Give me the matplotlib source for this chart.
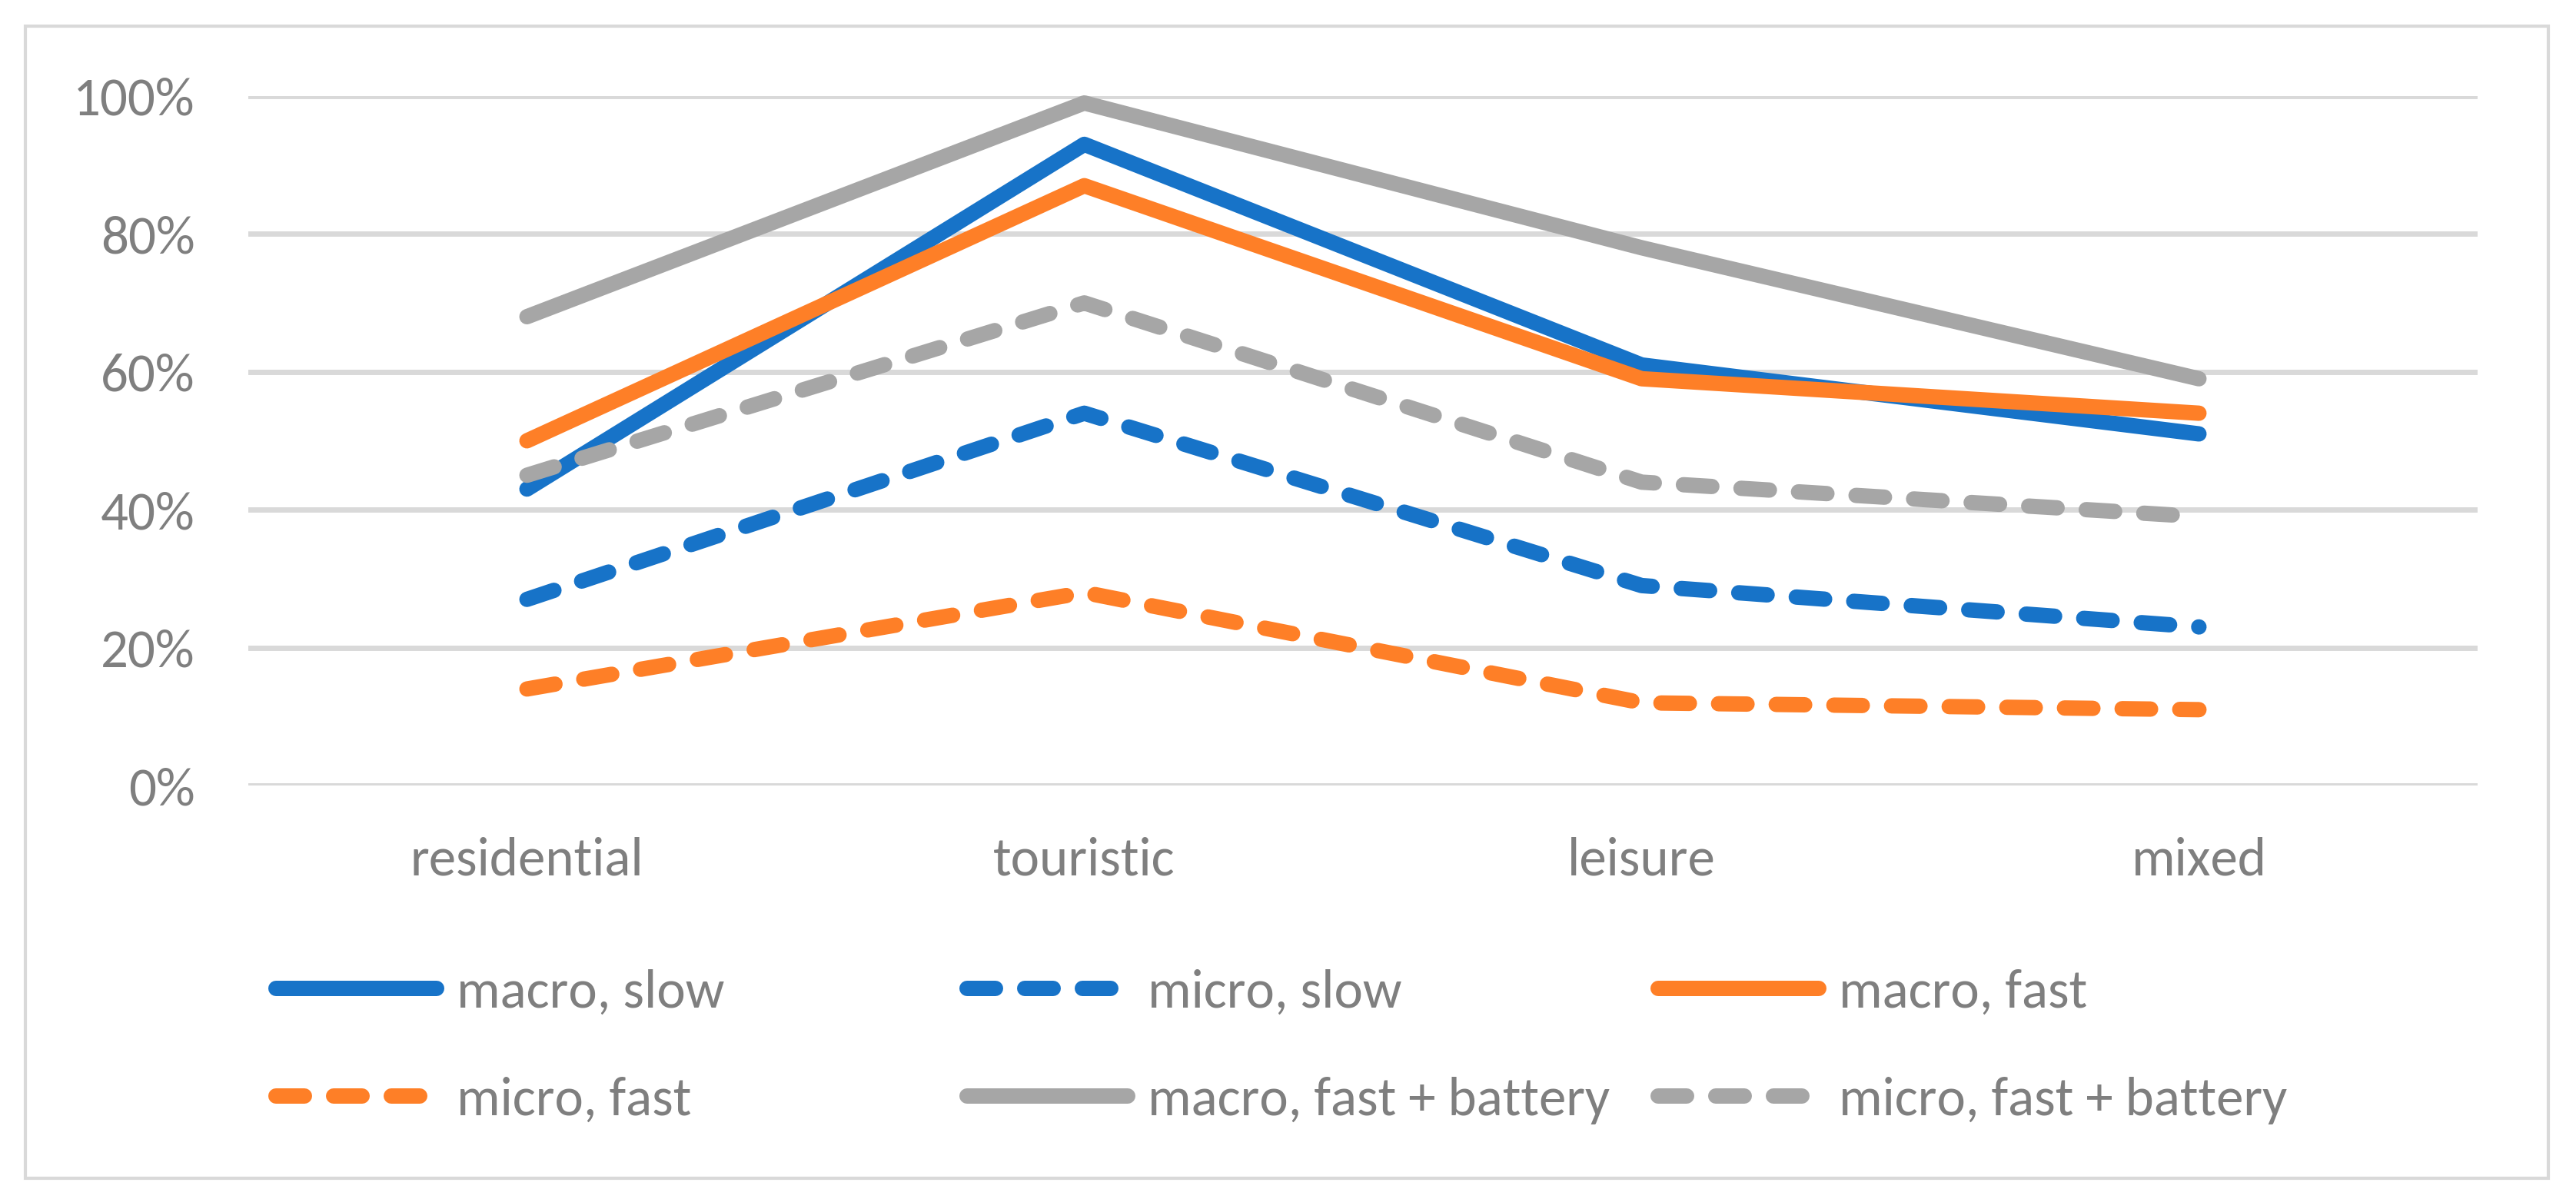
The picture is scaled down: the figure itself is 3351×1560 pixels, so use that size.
import matplotlib.pyplot as plt
from matplotlib.lines import Line2D
from matplotlib.patches import Rectangle

W, H = 3351, 1560
DPI = 100

categories = ["residential", "touristic", "leisure", "mixed"]
macro_slow = [43, 93, 61, 51]
micro_slow = [27, 54, 29, 23]
macro_fast = [50, 87, 59, 54]
micro_fast = [14, 28, 12, 11]
macro_fast_bat = [68, 99, 78, 59]
micro_fast_bat = [45, 70, 44, 39]
y_ticks = [0, 20, 40, 60, 80, 100]

series = [
    ("macro, slow", macro_slow, "#1773C8", "solid"),
    ("micro, slow", micro_slow, "#1773C8", "dashed"),
    ("macro, fast", macro_fast, "#FE7F27", "solid"),
    ("micro, fast", micro_fast, "#FE7F27", "dashed"),
    ("macro, fast + battery", macro_fast_bat, "#A6A6A6", "solid"),
    ("micro, fast + battery", micro_fast_bat, "#A6A6A6", "dashed"),
]

text_col = "#7F7F7F"
grid_col = "#D9D9D9"
lw = 14.4
fs = 51
dash = (0, (1.85, 1.9))
plt.rcParams["font.family"] = ["Carlito", "Lato", "DejaVu Sans"]


def fx(px):
    return px / W


def fy(py):
    return 1 - py / H


fig = plt.figure(figsize=(W / DPI, H / DPI), dpi=DPI)

# outer chart border
fig.add_artist(Rectangle((fx(33), fy(1533)), fx(3315) - fx(33), fy(34) - fy(1533),
                         transform=fig.transFigure, fill=False, ec=grid_col, lw=3))

ax = fig.add_axes([fx(323), fy(1022), fx(3223) - fx(323), fy(125) - fy(1022)])
x = list(range(len(categories)))

for name, vals, col, style in series:
    ls = "-" if style == "solid" else dash
    ax.plot(x, vals, color=col, lw=lw, ls=ls, solid_capstyle="round",
            dash_capstyle="round", solid_joinstyle="round",
            dash_joinstyle="round", clip_on=False, zorder=3)

ax.set_xlim(-0.5, len(categories) - 0.5)
ax.set_ylim(0, 100)
ax.set_yticks(y_ticks)
ax.set_yticklabels([f"{v}%" for v in y_ticks])
ax.set_xticks(x)
ax.set_xticklabels(categories)
ax.yaxis.grid(True, color=grid_col, lw=5)
ax.set_axisbelow(True)
for s in ax.spines.values():
    s.set_visible(False)
ax.tick_params(axis="both", length=0, labelsize=fs, labelcolor=text_col)
ax.tick_params(axis="y", pad=50)
ax.tick_params(axis="x", pad=48)

# legend: 3 equal columns, 2 rows, like the Excel one
for i, (name, vals, col, style) in enumerate(series):
    c, r = i % 3, i // 3
    x0 = 349 + c * 899
    y0 = 1286 + r * 140
    ls = "-" if style == "solid" else dash
    fig.add_artist(Line2D([fx(x0 + 10), fx(x0 + 219)], [fy(y0), fy(y0)],
                          transform=fig.transFigure, color=col, lw=lw, ls=ls,
                          solid_capstyle="round", dash_capstyle="round"))
    fig.text(fx(x0 + 245), fy(y0), name, fontsize=fs, color=text_col,
             ha="left", va="center_baseline")

fig.savefig("out.png", dpi=DPI)
